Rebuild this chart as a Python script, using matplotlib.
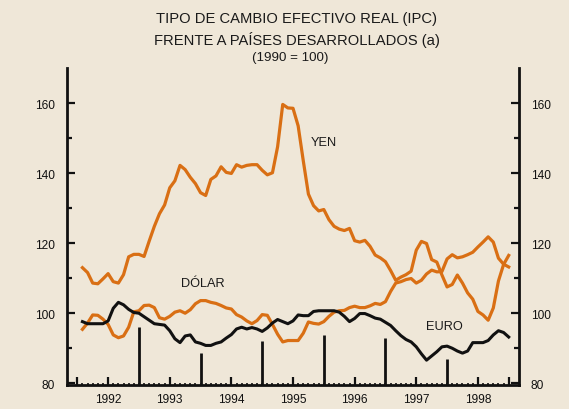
"""Tipo de cambio efectivo real (IPC) frente a paises desarrollados."""
import matplotlib
matplotlib.use("Agg")
import matplotlib.pyplot as plt

BG = "#EFE7D8"
ORANGE = "#D96F14"
INK = "#111111"

# monthly index, 0 = start of 1992
months = list(range(1, 85))

yen = [113.0, 111.6, 108.6, 108.4, 109.8, 111.3, 109.0, 108.6, 111.0, 116.1,
       116.8, 116.8, 116.2, 120.6, 124.8, 128.4, 130.9, 135.8, 137.8, 142.2,
       141.0, 138.8, 137.0, 134.4, 133.6, 138.2, 139.2, 141.8, 140.2, 139.9,
       142.4, 141.7, 142.2, 142.4, 142.4, 140.8, 139.5, 140.1, 147.5, 159.6,
       158.6, 158.5, 153.5, 143.5, 134.0, 130.7, 129.2, 129.6, 126.7, 124.8,
       124.0, 123.6, 124.2, 120.7, 120.3, 120.8, 119.1, 116.6, 115.8, 114.7,
       112.2, 109.4, 110.3, 111.0, 112.0, 118.0, 120.5, 119.9, 115.3, 114.6,
       110.9, 107.5, 108.2, 110.9, 108.6, 105.8, 104.0, 100.5, 99.5, 98.0,
       101.5, 109.2, 113.9, 116.5]

dolar = [95.4, 97.2, 99.5, 99.4, 98.3, 96.8, 93.8, 93.0, 93.5, 96.0,
         100.4, 100.7, 102.2, 102.3, 101.6, 98.7, 98.3, 99.1, 100.3, 100.7,
         100.0, 101.0, 102.7, 103.6, 103.6, 103.1, 102.8, 102.2, 101.5, 101.2,
         99.6, 98.9, 97.8, 97.0, 97.9, 99.6, 99.4, 96.8, 94.0, 91.8,
         92.2, 92.2, 92.2, 94.3, 97.5, 97.1, 96.9, 97.6, 99.1, 100.3,
         100.7, 100.8, 101.6, 102.0, 101.6, 101.6, 102.1, 102.8, 102.5, 103.3,
         106.2, 108.6, 109.0, 109.6, 109.9, 108.6, 109.4, 111.2, 112.3, 111.8,
         111.9, 115.5, 116.7, 115.8, 116.1, 116.7, 117.4, 118.9, 120.3, 121.8,
         120.3, 115.7, 114.0, 113.2]

euro = [97.6, 97.0, 97.0, 97.0, 97.0, 97.8, 101.4, 103.1, 102.4, 101.1,
        100.2, 100.0, 99.0, 98.0, 97.0, 96.8, 96.6, 95.0, 92.7, 91.6,
        93.5, 93.8, 91.8, 91.4, 90.8, 90.8, 91.4, 91.8, 92.9, 93.9,
        95.5, 96.0, 95.5, 95.9, 95.5, 94.8, 95.8, 97.2, 98.2, 97.6,
        97.0, 97.8, 99.5, 99.3, 99.3, 100.5, 100.7, 100.7, 100.7, 100.7,
        100.3, 99.1, 97.6, 98.5, 99.9, 99.9, 99.3, 98.6, 98.3, 97.4,
        96.5, 95.0, 93.6, 92.5, 91.8, 90.4, 88.4, 86.6, 87.8, 89.0,
        90.4, 90.6, 90.0, 89.2, 88.6, 89.2, 91.6, 91.6, 91.6, 92.2,
        93.8, 95.0, 94.5, 93.2]

year_labels = ["1992", "1993", "1994", "1995", "1996", "1997", "1998"]
# year-boundary bars (January of 1993..1998) and their top values
bar_months = [12, 24, 36, 48, 60, 72]
bar_tops = [96.0, 88.5, 92.2, 93.7, 92.8, 87.0]

YMIN, YMAX = 79.5, 170.0

plt.rcParams["font.family"] = ["Liberation Sans", "DejaVu Sans"]

fig = plt.figure(figsize=(5.69, 4.10), dpi=100)
fig.patch.set_facecolor(BG)
ax = fig.add_axes([0.1178, 0.0585, 0.7943, 0.7732])
ax.set_facecolor(BG)

ax.plot(months, yen, color=ORANGE, lw=2.3, solid_joinstyle="round")
ax.plot(months, dolar, color=ORANGE, lw=2.3, solid_joinstyle="round")
ax.plot(months, euro, color=INK, lw=2.2, solid_joinstyle="round")
ax.vlines(bar_months, YMIN, bar_tops, color=INK, lw=2.0)

ax.text(48, 149, "YEN", fontsize=9.2, ha="center", va="center", color="#1a1a1a")
ax.text(24.4, 108.5, "DÓLAR", fontsize=9.2, ha="center", va="center", color="#1a1a1a")
ax.text(71.4, 96.3, "EURO", fontsize=9.2, ha="center", va="center", color="#1a1a1a")

ax.set_xlim(-2, 86)
ax.set_ylim(YMIN, YMAX)

# x ticks: mid-year labels, end ticks, monthly minors
major_x = [0] + [6 + 12 * i for i in range(len(year_labels))] + [84]
ax.set_xticks(major_x)
ax.set_xticklabels([""] + year_labels + [""], fontsize=8.6)
ax.set_xticks([m for m in range(0, 85) if m not in major_x], minor=True)
ax.tick_params(axis="x", which="major", direction="in", length=5.5, width=1.6,
               pad=6, colors=INK)
ax.tick_params(axis="x", which="minor", direction="in", length=1.8, width=1.2,
               colors=INK)

ax.set_yticks([80, 100, 120, 140, 160])
ax.set_yticks([90, 110, 130, 150], minor=True)
ax.tick_params(axis="y", which="both", direction="in", left=True, right=True,
               labelleft=True, labelright=True, colors=INK, width=1.6)
ax.tick_params(axis="y", which="major", length=5.8, pad=8.5, labelsize=8.6)
ax.tick_params(axis="y", which="minor", length=3.8)

ax.spines["top"].set_visible(False)
for side in ("left", "right", "bottom"):
    ax.spines[side].set_linewidth(2.0)
    ax.spines[side].set_color(INK)

fig.text(0.521, 0.9537, "TIPO DE CAMBIO EFECTIVO REAL (IPC)", fontsize=10.6,
         ha="center", va="center", color="#1a1a1a")
fig.text(0.521, 0.9024, "FRENTE A PAÍSES DESARROLLADOS (a)", fontsize=10.6,
         ha="center", va="center", color="#1a1a1a")
fig.text(0.51, 0.8585, "(1990 = 100)", fontsize=9.6,
         ha="center", va="center", color="#1a1a1a")

fig.savefig("out.png", facecolor=fig.get_facecolor())
